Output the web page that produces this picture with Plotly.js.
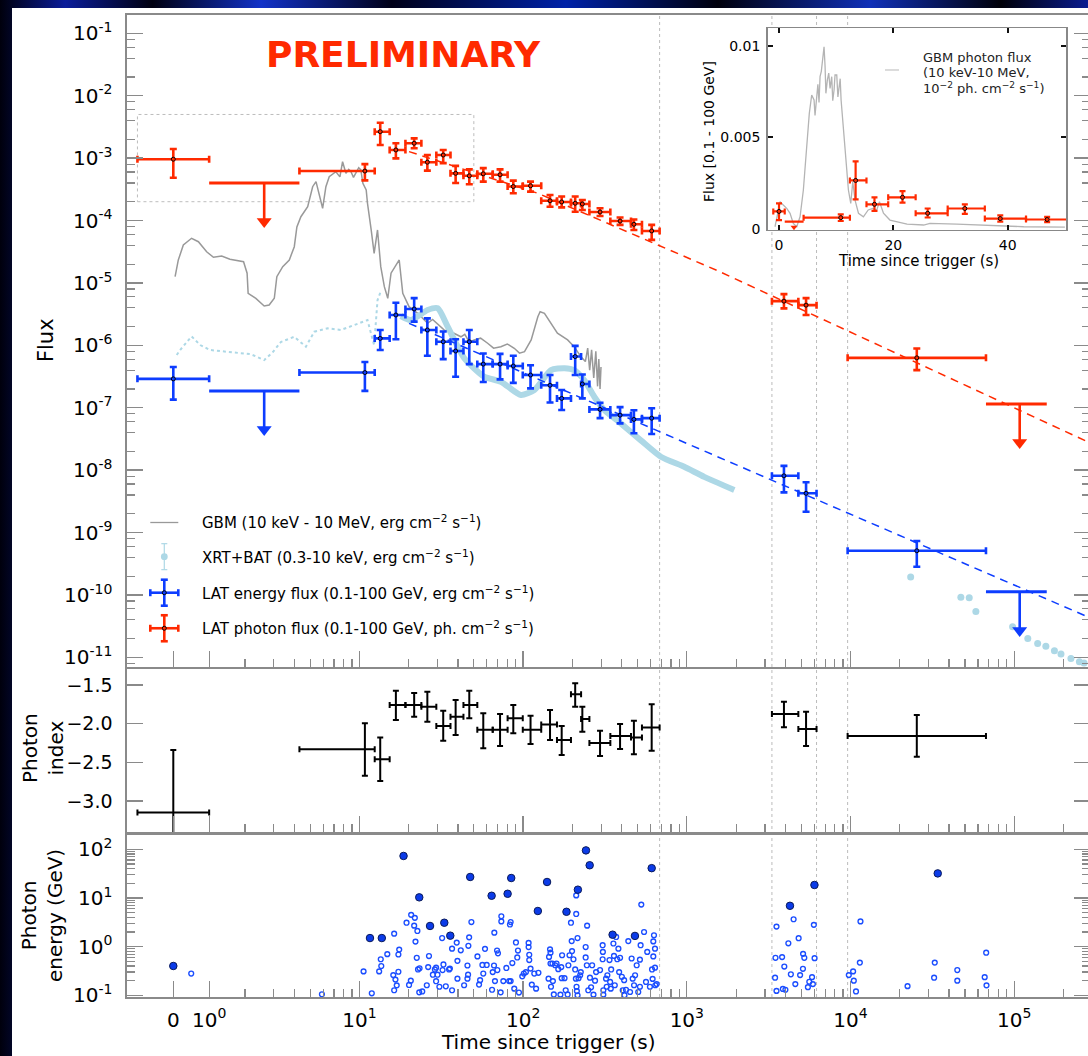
<!DOCTYPE html>
<html><head><meta charset="utf-8">
<script src="https://cdn.plot.ly/plotly-3.0.1.min.js"></script>
<style>
html,body{margin:0;padding:0;width:1088px;height:1056px;overflow:hidden;
background:linear-gradient(90deg,#00000c 0%,#0a1c9a 6%,#000010 14%,#1232c8 24%,#000018 36%,#0022a8 52%,#00000c 66%,#1030b8 80%,#000008 92%,#0a1c90 100%);}
#chart{position:absolute;left:12px;top:8px;width:1090px;height:1048px;background:#fff;}
</style></head><body><div id="chart"></div>
<script>
// ---------------- data ----------------
// LAT time bins (s)
const latT   = [0, 10.8, 13.4, 16.7, 21.6, 26.0, 32.5, 38.7, 46.9, 57.1, 72.3, 87.1, 111, 146, 172, 208, 230, 295, 391, 475, 610, 3920, 5350, 25400];
const latTlo = [-1, 4.3, 12.4, 15.3, 19.1, 23.9, 29.5, 36.0, 43.2, 52.5, 65.2, 80.4, 99.5, 129, 161, 196, 226, 254, 341, 456, 532, 3310, 4800, 9600];
const latThi = [1, 12.4, 15.3, 19.1, 23.9, 29.5, 36.0, 43.2, 52.5, 65.2, 80.4, 99.5, 129, 161, 196, 226, 254, 341, 456, 532, 682, 4800, 6200, 67200];
// LAT photon flux (ph cm-2 s-1)
const latPh   = [9.6e-4, 6.2e-4, 2.65e-3, 1.35e-3, 1.73e-3, 8.6e-4, 1.12e-3, 5.7e-4, 5.2e-4, 5.6e-4, 5.4e-4, 3.5e-4, 3.6e-4, 2.07e-4, 1.98e-4, 1.89e-4, 1.84e-4, 1.37e-4, 9.8e-5, 8.7e-5, 6.8e-5, 5.1e-6, 4.4e-6, 6.3e-7];
const latPhHi = [1.4e-3, 8.0e-4, 3.69e-3, 1.73e-3, 2.07e-3, 1.12e-3, 1.35e-3, 7.5e-4, 6.6e-4, 6.9e-4, 6.6e-4, 4.35e-4, 4.19e-4, 2.56e-4, 2.43e-4, 2.43e-4, 2.13e-4, 1.57e-4, 1.12e-4, 1.04e-4, 8.5e-5, 6.6e-6, 5.7e-6, 8.9e-7];
const latPhLo = [4.85e-4, 4.4e-4, 1.62e-3, 9.9e-4, 1.44e-3, 6.3e-4, 8.3e-4, 4.0e-4, 3.8e-4, 4.2e-4, 4.2e-4, 2.73e-4, 2.9e-4, 1.66e-4, 1.62e-4, 1.38e-4, 1.47e-4, 1.18e-4, 8.5e-5, 7.05e-5, 4.9e-5, 3.9e-6, 3.06e-6, 4.0e-7];
// LAT energy flux (erg cm-2 s-1)
const latEn   = [2.9e-7, 3.66e-7, 1.29e-6, 3.06e-6, 3.82e-6, 1.76e-6, 1.14e-6, 8.1e-7, 1.14e-6, 5.0e-7, 5.0e-7, 4.66e-7, 3.34e-7, 2.29e-7, 1.41e-7, 6.6e-7, 2.4e-7, 9.4e-8, 7.6e-8, 6.5e-8, 6.8e-8, 8.1e-9, 4.25e-9, 5.1e-10];
const latEnHi = [4.5e-7, 5.4e-7, 1.76e-6, 4.8e-6, 5.7e-6, 2.7e-6, 1.66e-6, 1.25e-6, 1.76e-6, 7.4e-7, 7.3e-7, 6.8e-7, 4.8e-7, 3.34e-7, 1.92e-7, 9.8e-7, 3.4e-7, 1.2e-7, 1.02e-7, 9.1e-8, 9.8e-8, 1.17e-8, 6.4e-9, 7.3e-10];
const latEnLo = [1.35e-7, 1.86e-7, 8.4e-7, 1.25e-6, 2.4e-6, 6.8e-7, 6.0e-7, 3.14e-7, 5.0e-7, 2.58e-7, 2.85e-7, 2.5e-7, 2.04e-7, 1.21e-7, 9.2e-8, 3.34e-7, 1.41e-7, 6.8e-8, 5.6e-8, 3.9e-8, 3.8e-8, 4.4e-9, 2.15e-9, 2.83e-10];
// upper limits
const ulT   = [2.62, 108000];
const ulTlo = [1, 67200];
const ulThi = [4.3, 158000];
const ulPh  = [4.0e-4, 1.15e-7];
const ulEn  = [1.86e-7, 1.12e-10];
// photon index
const idx   = [-3.15, -2.33, -2.46, -1.76, -1.76, -1.78, -2.03, -1.91, -1.76, -2.08, -2.08, -1.93, -2.08, -2.01, -2.21, -1.62, -1.94, -2.25, -2.16, -2.18, -2.05, -1.875, -2.07, -2.16];
const idxHi = [-2.34, -1.995, -2.18, -1.574, -1.603, -1.587, -1.832, -1.694, -1.574, -1.866, -1.875, -1.759, -1.897, -1.823, -2.03, -1.478, -1.78, -2.091, -2.004, -1.962, -1.75, -1.716, -1.845, -1.888];
const idxLo = [-3.96, -2.673, -2.74, -1.953, -1.91, -1.975, -2.22, -2.147, -1.93, -2.319, -2.289, -2.125, -2.263, -2.21, -2.405, -1.78, -2.103, -2.418, -2.328, -2.396, -2.35, -2.047, -2.289, -2.427];
// power-law fits (dashed)
const fitPhT = [20.1, 123, 1540, 320000];
const fitPhF = [1.27e-3, 2.73e-4, 1.57e-5, 2.43e-8];
const fitEnT = [20.1, 320000];
const fitEnF = [2.25e-6, 3.85e-11];
// GBM energy flux [t, F]
const gbm = [[0.05,1.26e-5],[0.14,2.33e-5],[0.28,4.05e-5],[0.51,5.19e-5],[0.70,4.57e-5],[0.93,3.16e-5],[1.12,2.57e-5],[1.35,2.7e-5],[1.58,2.39e-5],[1.82,2.27e-5],[1.96,2.19e-5],[2.06,1.43e-5],[2.09,6.8e-6],[2.33,5.66e-6],[2.62,4.26e-6],[2.81,4.42e-6],[3.02,5.66e-6],[3.13,1.26e-5],[3.40,1.82e-5],[3.73,2.33e-5],[4.0,3.8e-5],[4.15,7.9e-5],[4.39,1.15e-4],[4.83,1.66e-4],[5.18,3.48e-4],[5.43,4.19e-4],[5.68,2.73e-4],[5.96,1.57e-4],[6.24,3.48e-4],[6.54,5.04e-4],[7.18,6.05e-4],[7.6,5.0e-4],[7.89,8.75e-4],[8.27,5.7e-4],[8.6,6.6e-4],[8.88,6.05e-4],[9.2,4.9e-4],[9.52,5.7e-4],[9.9,7.0e-4],[10.2,6.46e-4],[10.5,3.94e-4],[11.0,3.08e-4],[11.2,1.89e-4],[11.8,7.05e-5],[12.3,2.98e-5],[12.9,7.05e-5],[13.5,1.82e-5],[14.2,8.7e-6],[14.9,5.66e-6],[15.6,1.43e-5],[16.3,1.71e-5],[17.5,2.33e-5],[18.4,6.8e-6],[20.1,4.16e-6],[22.7,3.26e-6],[26.1,2.25e-6],[28,2.6e-6],[31.5,1.99e-6],[33,1.75e-6],[36.2,1.65e-6],[41.7,1.37e-6],[44,1.5e-6],[47,1.12e-6],[50.2,1.22e-6],[55,1.3e-6],[60.7,1.08e-6],[66,9.0e-7],[73.1,9.5e-7],[80,1.05e-6],[88.3,8.95e-7],[95,7.5e-7],[102,7.9e-7],[112,1.22e-6],[123,2.87e-6],[127,3.45e-6],[135,3.26e-6],[148,2.25e-6],[162,1.56e-6],[187,1.22e-6],[205,9.5e-7],[225,6.6e-7],[240,5.5e-7],[248,9.0e-7],[255,4.0e-7],[262,8.5e-7],[270,3.0e-7],[278,8.0e-7],[285,2.2e-7],[290,6.0e-7],[295,2.0e-7],[299,4.5e-7]];
// BAT (dotted) and XRT (band, late points) [t, F]
const bat = [[0.095,7.0e-7],[0.19,8.4e-7],[0.51,1.39e-6],[0.75,1.01e-6],[1.03,8.4e-7],[1.49,7.9e-7],[1.86,7.7e-7],[2.17,7.2e-7],[2.62,5.8e-7],[2.96,7.8e-7],[3.31,1.13e-6],[4.0,1.37e-6],[4.71,9.5e-7],[5.30,1.65e-6],[6.40,1.87e-6],[7.71,1.76e-6],[9.29,2.11e-6],[11.2,2.54e-6],[12.3,1.0e-6],[12.9,5.3e-6],[13.6,7.7e-6]];
const xrt = [[17.9,2.95e-6],[20.6,2.54e-6],[26.1,3.68e-6],[30.1,3.92e-6],[34.6,1.99e-6],[43.7,6.2e-7],[57.8,3.14e-7],[73.1,2.61e-7],[97,1.6e-7],[117,1.92e-7],[148,4.0e-7],[179,4.3e-7],[205,4.0e-7],[236,2.78e-7],[272,1.5e-7],[313,9.2e-8],[395,5.6e-8],[524,3.0e-8],[694,1.64e-8],[964,1.13e-8],[1277,7.8e-9],[1950,4.8e-9]];
const xrtLate = [[23300,1.94e-10],[47200,9.2e-11],[53100,9.0e-11],[58300,5.4e-11],[97700,3.1e-11],[121000,2.0e-11],[139000,1.67e-11],[156000,1.5e-11],[176000,1.28e-11],[193000,1.13e-11],[222000,9.6e-12],[250000,8.5e-12],[267000,8.1e-12]];
// inset: GBM photon flux x 1e-2 [t, f]
const gbmPh = [[-0.7,1.25e-4],[0.18,1.49e-3],[0.75,1.31e-3],[1.35,1.13e-3],[1.93,8.6e-4],[2.5,3.1e-4],[3.1,1.25e-4],[3.68,6.7e-4],[4.26,2.13e-3],[4.85,4.31e-3],[5.3,6.31e-3],[5.72,7.31e-3],[6.13,7.04e-3],[6.3,6.2e-3],[6.6,7.58e-3],[6.8,7.9e-3],[7.0,6.9e-3],[7.18,8.31e-3],[7.4,8.6e-3],[7.65,9.22e-3],[7.88,9.94e-3],[8.06,8.85e-3],[8.2,7.4e-3],[8.46,8.13e-3],[8.7,8.5e-3],[8.93,7.67e-3],[9.22,8.31e-3],[9.4,7.0e-3],[9.63,7.58e-3],[9.8,8.4e-3],[10.1,8.4e-3],[10.3,7.2e-3],[10.56,7.76e-3],[10.7,8.2e-3],[10.86,7.04e-3],[11.26,5.4e-3],[11.6,4.31e-3],[12.14,2.13e-3],[12.55,1.4e-3],[12.9,2.58e-3],[13.3,1.58e-3],[13.9,8.6e-4],[14.76,6.7e-4],[15.6,1.04e-3],[16.4,1.13e-3],[17.1,1.04e-3],[17.57,1.49e-3],[18.27,8.6e-4],[19.4,4.9e-4],[22.4,2.7e-4],[25.3,2.2e-4],[26.4,3.1e-4],[31.1,2.7e-4],[37,1.8e-4],[42.8,1.25e-4],[50,1.0e-4]];
// LAT photon energies [t (s), E (GeV)]
const photonsBig = [[0,0.40],[11.6,1.5],[13.7,1.5],[18.6,73],[23.2,10.3],[27,2.66],[33,3.1],[35.9,1.68],[47.5,27],[64.2,11.1],[80.4,12.2],[84.6,25.7],[123,5.4],[140,21.3],[184,5.2],[216,14.8],[242,95],[255,47],[352,1.76],[482,1.66],[610,41],[4266,6.9],[6020,18.5],[34100,32]];
const photons = [[0.5,0.28],[5.9,0.105],
[10.6,0.31],[11.9,0.11],[13.2,0.31],[13.5,0.55],[13.6,0.40],[14.8,0.70],[16.1,0.26],[16.3,1.85],[16.6,0.21],[16.9,0.16],
[16.3,0.127],[17.3,0.69],[17.5,0.87],[17.3,0.305],[19.4,3.1],[20.1,0.163],[20.6,0.20],[20.7,4.5],[21.8,3.9],[21.6,2.7],
[22.6,2.1],[22.0,1.27],[22.4,0.59],[22.8,0.34],[23.3,0.36],[23.2,0.115],[24.2,0.12],[25.8,0.161],[26.6,0.64],[26.3,0.38],
[28.1,0.265],[28.9,0.34],[29.4,0.37],[30.0,0.265],[29.4,0.195],[30.8,0.15],[32.0,1.5],[32.2,0.33],[32.6,0.43],[33.7,0.153],
[35.3,0.34],[35.7,0.354],[36.8,0.91],[36.8,0.127],[39.3,1.21],[39.7,0.51],[39.7,0.22],[41.6,0.84],[43.6,0.161],[45.7,0.41],
[45.7,0.22],[46.1,0.265],[46.8,1.55],[46.3,1.04],[48.3,3.2],[52.6,0.63],[53.8,0.166],[54.6,0.205],[56.4,0.42],[57.1,0.28],
[58.5,0.9],[59.9,0.42],[64.6,0.13],[65.2,0.30],[66.7,1.94],[66.4,0.41],[67.3,0.196],[69.3,0.83],[70.2,0.73],[69.6,0.33],
[72.9,0.115],[73.6,3.3],[73.6,4.2],[75.7,0.196],[79,0.365],[82.2,0.196],[83.9,0.196],[83.9,3.2],[83.1,2.85],[85.9,0.46],
[88.3,0.137],[90.4,1.22],[93,0.83],[92.1,0.6],[94.3,0.114],[98.8,0.245],[101,0.28],[104,0.30],[108,1.19],[108,0.98],
[109,0.68],[109,0.53],[111,0.354],[113,0.166],[117,0.28],[120,0.137],[124,0.29],[143,0.22],[144,0.615],[146,0.88],
[147,0.75],[147,0.45],[148,0.15],[151,0.45],[152,0.196],[154,0.104],[157,0.414],[160,0.45],[164,0.345],[169,0.103],
[171,0.38],[172,0.225],[173,0.665],[179,0.225],[182,0.127],[187,0.104],[189,0.414],[192,0.665],[196,3.1],[198,1.3],
[199,0.81],[203,0.55],[208,0.34],[210,0.22],[212,0.15],[213,0.122],[215,0.10],[215,1.5],[211,4.7],[211,11.3],
[218,0.225],[223,0.258],[225,0.30],[241,0.98],[241,0.60],[245,0.414],[246,2.7],[250,0.127],[256,0.23],[260,0.146],
[264,0.414],[269,0.103],[275,0.2],[279,0.30],[295,0.33],[306,1.07],[306,0.55],[307,0.78],[309,0.127],[309,0.103],
[321,0.22],[324,0.15],[327,0.258],[337,0.53],[340,0.188],[343,0.137],[345,0.34],[356,1.16],[359,0.645],[363,0.161],
[370,1.58],[376,0.55],[382,0.91],[386,0.30],[391,0.59],[401,0.24],[406,0.127],[416,0.10],[414,0.205],[425,0.13],
[439,1.3],[450,0.117],[460,0.57],[467,0.22],[476,0.161],[483,0.258],[494,0.414],[505,0.117],[517,0.15],[522,1.07],
[517,0.54],[527,7.3],[548,2.0],[563,0.188],[573,0.78],[595,0.15],[613,0.34],[624,1.28],[618,0.217],[624,0.63],
[630,1.71],[639,0.37],[642,0.161],[639,0.91],[654,0.17],
[3530,2.58],[3480,0.59],[3820,0.61],[3460,0.23],[4170,1.17],[4820,1.49],[4490,3.65],[3940,0.39],[4320,0.27],[5130,0.71],
[5220,0.59],[5120,0.35],[4920,0.26],[3530,0.123],[3860,0.135],[4000,0.13],[4600,0.17],[5600,0.19],[5820,0.236],[5970,2.8],
[6030,0.58],[5890,0.17],[5490,0.147],[9760,0.26],[10370,0.31],[10470,0.2],[11400,0.47],[11500,3.3],[10800,0.12],[22300,0.154],
[32700,0.47],[32400,0.23],[44900,0.33],[44900,0.2],[67400,0.75],[66000,0.236],[67700,0.16]];
// time-interval markers (dotted verticals) and inset zoom box
const gapT = [682, 3310, 6200, 9600];
const boxT = [-1, 50];
const boxF = [2e-4, 5e-3];
// axis ticks
const xMajorT = [0, 1, 10, 100, 1000, 10000, 100000];

// ---------------- helpers ----------------
const pow10 = n => '10<sup>' + n + '</sup>';
// symlog-style time axis (linear below 2 s)
const LINT = 2, LINDEC = 0.438;
const U = t => { const a = Math.abs(t), s = t < 0 ? -1 : 1; return a <= LINT ? s * a / LINT * LINDEC : s * (LINDEC + Math.log10(a / LINT)); };
const col = (arr, i) => arr.map(p => p[i]);

const RED = '#ff2a00', BLUE = '#0d3dff', LBLUE = '#add8e6', GRAY = '#999999';
const ARROW_DEC = 0.62;   // arrow length (decades) of the upper-limit arrows

const xErr = (tt, lo, hi, color, th, w) => ({type:'data', symmetric:false,
  array: tt.map((t,i) => U(hi[i]) - U(t)), arrayminus: tt.map((t,i) => U(t) - U(lo[i])),
  color, thickness: th, width: w});
const yErr = (v, lo, hi, color, th, w) => ({type:'data', symmetric:false,
  array: v.map((y,i) => hi[i] - y), arrayminus: v.map((y,i) => y - lo[i]), color, thickness: th, width: w});

const ctr = {symbol:'circle-open', size:4, color:'#000', line:{width:1, color:'#000'}};
const none = {size:1, color:'rgba(0,0,0,0)'};

const traces = [];
// inset-box (dotted)
traces.push({x:[U(boxT[0]),U(boxT[1]),U(boxT[1]),U(boxT[0]),U(boxT[0])], y:[boxF[0],boxF[0],boxF[1],boxF[1],boxF[0]],
  mode:'lines', line:{color:'#bdbdbd', width:1, dash:'dot'}, xaxis:'x', yaxis:'y', hoverinfo:'skip'});
// GBM
traces.push({x:col(gbm,0).map(U), y:col(gbm,1), mode:'lines', line:{color:GRAY, width:1.5}, xaxis:'x', yaxis:'y'});
// BAT dotted, XRT band, late XRT
traces.push({x:col(bat,0).map(U), y:col(bat,1), mode:'lines', line:{color:LBLUE, width:2, dash:'dot'}, xaxis:'x', yaxis:'y'});
traces.push({x:col(xrt,0).map(U), y:col(xrt,1), mode:'lines', line:{color:LBLUE, width:6, shape:'spline', smoothing:0.6}, xaxis:'x', yaxis:'y'});
traces.push({x:col(xrtLate,0).map(U), y:col(xrtLate,1), mode:'markers', marker:{color:LBLUE, size:7}, xaxis:'x', yaxis:'y'});
// fits
traces.push({x:fitPhT.map(U), y:fitPhF, mode:'lines', line:{color:RED, width:1.5, dash:'8px,6px'}, xaxis:'x', yaxis:'y'});
traces.push({x:fitEnT.map(U), y:fitEnF, mode:'lines', line:{color:BLUE, width:1.5, dash:'8px,6px'}, xaxis:'x', yaxis:'y'});
// LAT energy flux
traces.push({x:latT.map(U), y:latEn, mode:'markers', marker:ctr, xaxis:'x', yaxis:'y',
  error_x:xErr(latT, latTlo, latThi, BLUE, 2.6, 3.5), error_y:yErr(latEn, latEnLo, latEnHi, BLUE, 2.6, 3.5)});
// LAT photon flux
traces.push({x:latT.map(U), y:latPh, mode:'markers', marker:ctr, xaxis:'x', yaxis:'y',
  error_x:xErr(latT, latTlo, latThi, RED, 2.6, 3.5), error_y:yErr(latPh, latPhLo, latPhHi, RED, 2.6, 3.5)});
// upper limits: horizontal bar + downward arrow (shaft = error bar, head = triangle marker)
[[ulEn, BLUE], [ulPh, RED]].forEach(([v, c]) => {
  traces.push({x:ulT.map(U), y:v, mode:'markers', marker:none, xaxis:'x', yaxis:'y', error_x:xErr(ulT, ulTlo, ulThi, c, 3, 0)});
  const tip = v.map(y => y / Math.pow(10, ARROW_DEC));
  traces.push({x:ulT.map(U), y:tip, mode:'markers', xaxis:'x', yaxis:'y',
    marker:{symbol:'triangle-down', size:13, color:c, line:{width:0}},
    error_y:{type:'data', symmetric:false, array:v.map((y,i) => y - tip[i]), arrayminus:v.map(() => 0), color:c, thickness:2.6, width:0}});
});
// photon index
traces.push({x:latT.map(U), y:idx, mode:'markers', marker:none, xaxis:'x2', yaxis:'y2',
  error_x:xErr(latT, latTlo, latThi, '#000', 2, 3), error_y:yErr(idx, idxLo, idxHi, '#000', 2, 3)});
// photon energies
traces.push({x:col(photons,0).map(U), y:col(photons,1), mode:'markers', xaxis:'x3', yaxis:'y3',
  marker:{symbol:'circle-open', size:4.8, color:'#1a4dff', line:{width:1.4}}});
traces.push({x:col(photonsBig,0).map(U), y:col(photonsBig,1), mode:'markers', xaxis:'x3', yaxis:'y3',
  marker:{symbol:'circle', size:7.5, color:'#0b3be8', line:{color:'#0a1a5a', width:1}}});
// inset
const inN = latT.filter(t => t < 50).length;
const inT = latT.slice(0,inN), inLo = latTlo.slice(0,inN), inHi = latThi.slice(0,inN);
traces.push({x:col(gbmPh,0), y:col(gbmPh,1), mode:'lines', line:{color:'#b4b4b4', width:1.3}, xaxis:'x4', yaxis:'y4'});
traces.push({x:inT, y:latPh.slice(0,inN), mode:'markers', marker:ctr, xaxis:'x4', yaxis:'y4',
  error_x:{type:'data', symmetric:false, array:inT.map((t,i)=>inHi[i]-t), arrayminus:inT.map((t,i)=>t-inLo[i]), color:RED, thickness:2.2, width:3},
  error_y:yErr(latPh.slice(0,inN), latPhLo.slice(0,inN), latPhHi.slice(0,inN), RED, 2.2, 3)});
traces.push({x:[ulT[0]], y:[ulPh[0]], mode:'markers', marker:none, xaxis:'x4', yaxis:'y4',
  error_x:{type:'data', symmetric:false, array:[ulThi[0]-ulT[0]], arrayminus:[ulT[0]-ulTlo[0]], color:RED, thickness:2.2, width:0}});
traces.push({x:[ulT[0]], y:[ulPh[0] / 4], mode:'markers', xaxis:'x4', yaxis:'y4',
  marker:{symbol:'triangle-down', size:6, color:RED, line:{width:0}}});

// ---------------- axes ----------------
const XR = [-0.2828, 5.5998];
const AX = '#8a8a8a';
const xMinorU = [];
for (let n = 0; n <= 5; n++) for (let k = 2; k <= 9; k++) xMinorU.push(U(k * Math.pow(10, n)));
const yMinor = [];
for (let n = -12; n <= -1; n++) for (const k of [2,4,6,8]) yMinor.push(k * Math.pow(10, n));
const y3Minor = [];
for (let n = -1; n <= 2; n++) for (let k = 2; k <= 9; k++) y3Minor.push(k * Math.pow(10, n));
const yMainExp = [-11,-10,-9,-8,-7,-6,-5,-4,-3,-2,-1];
const xMajorTxt = xMajorT.map(t => t === 0 ? '0' : pow10(Math.round(Math.log10(t))));

const xBase = (anchor, showLabels) => ({domain:[0,1], range:XR, anchor, showline:true, linecolor:AX, linewidth:1.6, mirror:true,
  ticks:'inside', ticklen:16, tickwidth:1.3, tickcolor:AX, tickmode:'array', tickvals:xMajorT.map(U), ticktext:xMajorTxt,
  showticklabels:showLabels, tickfont:{size:20}, ticklabelstandoff:4, showgrid:false, zeroline:false,
  minor:{ticks:'inside', ticklen:8, tickwidth:1.2, tickcolor:AX, tickmode:'array', tickvals:xMinorU}});
const yBase = {showline:true, linecolor:AX, linewidth:1.6, mirror:'ticks', ticks:'inside', ticklen:16, tickwidth:1.3, tickcolor:AX,
  showgrid:false, zeroline:false, tickmode:'array', ticklabelstandoff:9};

const layout = {
  width:1090, height:1048, margin:{l:115, r:12, t:7, b:59},
  paper_bgcolor:'#ffffff', plot_bgcolor:'#ffffff', showlegend:false,
  font:{family:'DejaVu Sans', color:'#000', size:20},
  xaxis: xBase('y', false), xaxis2: xBase('y2', false), xaxis3: xBase('y3', true),
  yaxis: Object.assign({}, yBase, {domain:[0.33605,1], type:'log', range:[-11.155,-0.707], anchor:'x',
    tickvals:yMainExp.map(n => Math.pow(10, n)), ticktext:yMainExp.map(pow10), tickfont:{size:20},
    minor:{ticks:'inside', ticklen:8, tickwidth:1.2, tickcolor:AX, tickmode:'array', tickvals:yMinor}}),
  yaxis2: Object.assign({}, yBase, {domain:[0.16802,0.33401], range:[-3.401,-1.293], anchor:'x2',
    tickvals:[-1.5,-2,-2.5,-3], ticktext:['\u22121.5','\u22122.0','\u22122.5','\u22123.0'], tickfont:{size:19}}),
  yaxis3: Object.assign({}, yBase, {domain:[0,0.16497], type:'log', range:[-1.035,2.294], anchor:'x3',
    tickvals:[0.1,1,10,100], ticktext:[-1,0,1,2].map(pow10), tickfont:{size:20},
    minor:{ticks:'inside', ticklen:8, tickwidth:1.2, tickcolor:AX, tickmode:'array', tickvals:y3Minor}}),
  xaxis4: {domain:[0.6653,0.9751], range:[-1.98,50.2], anchor:'y4', showline:true, linecolor:'#888', linewidth:1.5, mirror:'ticks',
    ticks:'inside', ticklen:5, tickwidth:2, tickcolor:'#111', tickmode:'array', tickvals:[0,20,40], ticktext:['0','20','40'],
    tickfont:{size:14}, ticklabelstandoff:2, showgrid:false, zeroline:false},
  yaxis4: {domain:[0.7811,0.9865], range:[-0.00005,0.01095], anchor:'x4', showline:true, linecolor:'#888', linewidth:1.5, mirror:'ticks',
    ticks:'inside', ticklen:5, tickwidth:2, tickcolor:'#111', tickmode:'array', tickvals:[0,0.005,0.01], ticktext:['0','0.005','0.01'],
    tickfont:{size:14}, ticklabelstandoff:3, showgrid:false, zeroline:false}
};

// ---------------- shapes ----------------
const shapes = [];
gapT.forEach(g => shapes.push({type:'line', xref:'x', yref:'paper', x0:U(g), x1:U(g), y0:0, y1:1,
  line:{color:'#bbbbbb', width:1, dash:'dot'}, layer:'below'}));
// inset background covers the main panel beneath it
shapes.push({type:'rect', xref:'x4', yref:'y4', x0:-100, x1:200, y0:-1, y1:1, fillcolor:'#ffffff', line:{width:0}, layer:'below'});
// legend symbols (paper coords + pixel offsets)
const LX = 0.03873, LYs = [0.4832, 0.4484, 0.4117, 0.3755];
const seg = (cy, x0, y0, x1, y1, color, w) => ({type:'line', xref:'paper', yref:'paper', xsizemode:'pixel', ysizemode:'pixel',
  xanchor:LX, yanchor:cy, x0, y0, x1, y1, line:{color, width:w}, layer:'above'});
shapes.push(seg(LYs[0], -14, 0, 14, 0, GRAY, 1.3));
shapes.push(seg(LYs[1], 0, -13, 0, 13, LBLUE, 1.2));
shapes.push(seg(LYs[1], -3, -13, 3, -13, LBLUE, 1.2));
shapes.push(seg(LYs[1], -3, 13, 3, 13, LBLUE, 1.2));
shapes.push({type:'circle', xref:'paper', yref:'paper', xsizemode:'pixel', ysizemode:'pixel', xanchor:LX, yanchor:LYs[1],
  x0:-3.4, x1:3.4, y0:-3.4, y1:3.4, fillcolor:LBLUE, line:{width:0}, layer:'above'});
[[LYs[2], BLUE], [LYs[3], RED]].forEach(([cy, c]) => {
  shapes.push(seg(cy, -14, 0, 14, 0, c, 2.6));
  shapes.push(seg(cy, 0, -13, 0, 13, c, 2.6));
  shapes.push(seg(cy, -3.5, -13, 3.5, -13, c, 2.6));
  shapes.push(seg(cy, -3.5, 13, 3.5, 13, c, 2.6));
  shapes.push(seg(cy, -14, -3.5, -14, 3.5, c, 2.6));
  shapes.push(seg(cy, 14, -3.5, 14, 3.5, c, 2.6));
  shapes.push({type:'circle', xref:'paper', yref:'paper', xsizemode:'pixel', ysizemode:'pixel', xanchor:LX, yanchor:cy,
    x0:-2, x1:2, y0:-2, y1:2, line:{color:'#000', width:1}, layer:'above'});
});
// inset legend line
shapes.push({type:'line', xref:'paper', yref:'paper', x0:0.7871, x1:0.8017, y0:0.944, y1:0.944, line:{color:'#c8c8c8', width:1.3}, layer:'above'});
layout.shapes = shapes;

// ---------------- annotations ----------------
const ann = [];
const txt = (x, y, text, opt) => Object.assign({xref:'paper', yref:'paper', x, y, text, showarrow:false}, opt);
ann.push(txt(0.2876, 0.9601, '<b>PRELIMINARY</b>', {font:{size:36, color:RED}, xanchor:'center', yanchor:'middle'}));
ann.push(txt(-0.0841, 0.669, 'Flux', {font:{size:21}, textangle:-90, xanchor:'center', yanchor:'middle'}));
ann.push(txt(-0.0872, 0.2536, 'Photon<br>index', {font:{size:20}, textangle:-90, xanchor:'center', yanchor:'middle'}));
ann.push(txt(-0.0883, 0.0835, 'Photon<br>energy (GeV)', {font:{size:20}, textangle:-90, xanchor:'center', yanchor:'middle'}));
ann.push(txt(0.4372, -0.0462, 'Time since trigger (s)', {font:{size:20}, xanchor:'center', yanchor:'middle'}));
ann.push(txt(0.8214, 0.7495, 'Time since trigger (s)', {font:{size:15}, xanchor:'center', yanchor:'middle'}));
ann.push(txt(0.6044, 0.8809, 'Flux [0.1 - 100 GeV]', {font:{size:14}, textangle:-90, xanchor:'center', yanchor:'middle'}));
const units = (u) => u + ' cm<sup>\u22122</sup> s<sup>\u22121</sup>)';
const legTxt = ['GBM (10 keV - 10 MeV, ' + units('erg'),
  'XRT+BAT (0.3-10 keV, ' + units('erg'),
  'LAT energy flux (0.1-100 GeV, ' + units('erg'),
  'LAT photon flux (0.1-100 GeV, ' + units('ph.')];
legTxt.forEach((t, i) => ann.push(txt(0.0758, LYs[i], t, {font:{size:15}, xanchor:'left', yanchor:'middle'})));
ann.push(txt(0.8245, 0.9567, 'GBM photon flux', {font:{size:13, color:'#222'}, xanchor:'left', yanchor:'middle'}));
ann.push(txt(0.8245, 0.9414, '(10 keV-10 MeV,', {font:{size:13, color:'#222'}, xanchor:'left', yanchor:'middle'}));
ann.push(txt(0.8245, 0.9257, '10<sup>\u22122</sup> ph. cm<sup>\u22122</sup> s<sup>\u22121</sup>)', {font:{size:13, color:'#222'}, xanchor:'left', yanchor:'middle'}));
layout.annotations = ann;

Plotly.newPlot('chart', traces, layout, {staticPlot:true, displayModeBar:false});
</script></body></html>
